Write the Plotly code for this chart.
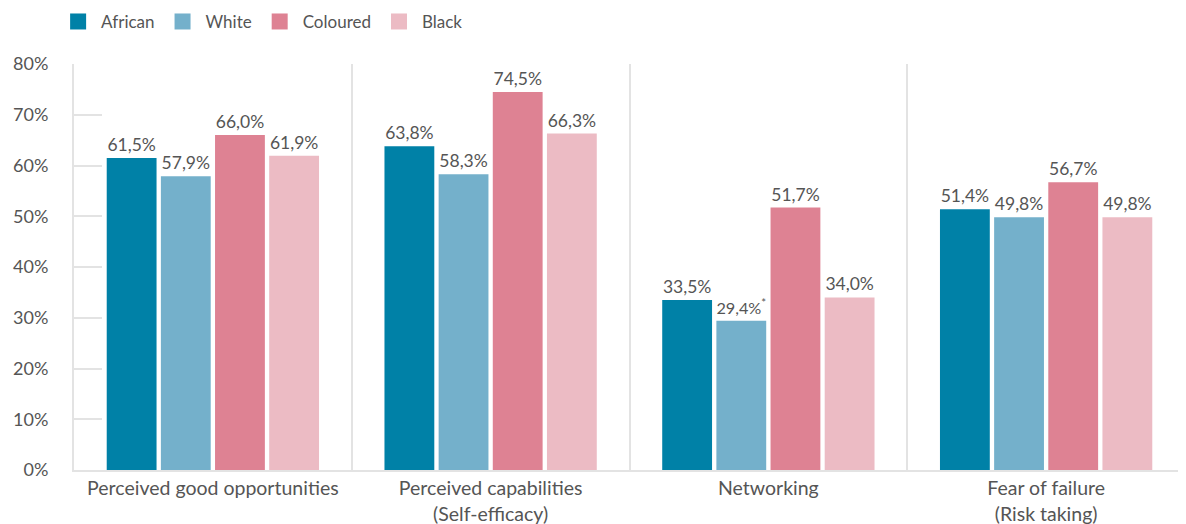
import plotly.graph_objects as go

categories = ["Perceived good opportunities", "Perceived capabilities<br>(Self-efficacy)",
              "Networking", "Fear of failure<br>(Risk taking)"]
series_names = ["African", "White", "Coloured", "Black"]
african = [61.5, 63.8, 33.5, 51.4]
white = [57.9, 58.3, 29.4, 49.8]
coloured = [66.0, 74.5, 51.7, 56.7]
black = [61.9, 66.3, 34.0, 49.8]
white_flags = ["", "", "*", ""]
colors = ["#0081A7", "#74B0CB", "#DE8293", "#ECBBC4"]
y_ticks = [0, 10, 20, 30, 40, 50, 60, 70, 80]

FONT = "Lato, Open Sans, sans-serif"
TXT = "#555555"
GRID = "#e3e3e3"


def fmt(v, flag=""):
    s = f"{v:.1f}%".replace(".", ",")
    if flag:
        s += f"<sup>{flag}</sup>"
    return s


fig = go.Figure()
all_series = [african, white, coloured, black]
for name, vals, col in zip(series_names, all_series, colors):
    flags = white_flags if name == "White" else [""] * len(vals)
    fig.add_trace(go.Bar(
        name=name, x=categories, y=vals, marker_color=col, marker_line_width=0,
        text=[fmt(v, f) for v, f in zip(vals, flags)], textposition="outside",
        textfont=dict(family=FONT, size=17.5, color=TXT), cliponaxis=False,
        showlegend=False, legendgroup=name,
    ))
# legend entries with larger square swatches
for name, col in zip(series_names, colors):
    fig.add_trace(go.Scatter(
        name=name, x=[None], y=[None], mode="markers", legendgroup=name,
        marker=dict(symbol="square", size=22, color=col), showlegend=True,
    ))

# page body has an 8px margin, so the figure is sized/offset accordingly
fig.update_layout(
    width=1178, height=516,
    margin=dict(l=66, r=1, t=56, b=54, autoexpand=False),
    plot_bgcolor="white", paper_bgcolor="white",
    barmode="group", bargap=0.22, bargroupgap=0.08,
    font=dict(family=FONT, color=TXT, size=18),
    legend=dict(orientation="h", x=0.04, xref="container", xanchor="left",
                y=0.973, yref="container", yanchor="middle",
                font=dict(family=FONT, size=17, color=TXT),
                itemwidth=36, itemsizing="trace", traceorder="normal"),
    uniformtext=dict(mode=False),
)
fig.update_xaxes(
    tickson="boundaries", showgrid=True, gridcolor=GRID, gridwidth=1.5,
    showline=True, linecolor=GRID, linewidth=2, ticks="", automargin=False,
    tickfont=dict(family=FONT, size=19.5, color=TXT),
)
fig.update_yaxes(
    range=[0, 80], tickvals=y_ticks, ticktext=[f"{t}%" for t in y_ticks],
    showgrid=False, zeroline=False, showline=True, linecolor=GRID, linewidth=2,
    ticks="inside", ticklen=28, tickcolor=GRID, tickwidth=1.5, automargin=False,
    ticklabelstandoff=20,
    tickfont=dict(family=FONT, size=18, color=TXT),
)
fig.write_html("out.html")
